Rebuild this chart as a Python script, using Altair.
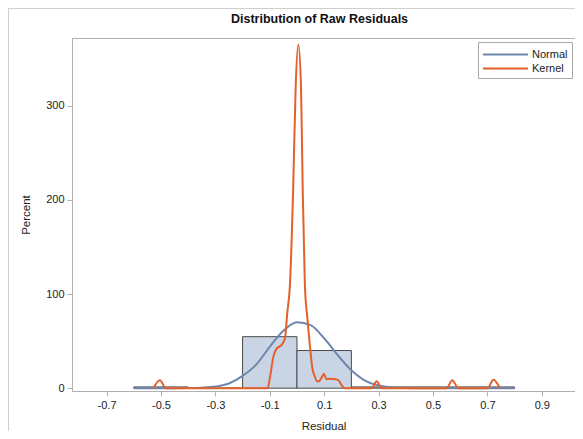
import altair as alt
import pandas as pd

# Histogram bins (percent)
bin_start = [-0.6, -0.4, -0.2, 0.0, 0.2, 0.4, 0.6]
bin_end = [-0.4, -0.2, 0.0, 0.2, 0.4, 0.6, 0.8]
bin_pct = [1.33, 0.0, 54.7, 40.0, 1.33, 1.33, 1.33]

# Normal density curve (percent)
normal_x = [-0.6, -0.55, -0.5, -0.45, -0.4, -0.35, -0.3, -0.25, -0.2, -0.15, -0.1, -0.05,
            0.0, 0.05, 0.1, 0.15, 0.2, 0.25, 0.3, 0.35, 0.4, 0.45, 0.5, 0.55, 0.6, 0.65,
            0.7, 0.75, 0.8]
normal_y = [0, 0, 0, 0, 0.1, 0.5, 1.7, 5, 13, 25, 44, 61,
            70, 67, 53, 35, 19, 8, 2.8, 0.8, 0.2, 0, 0, 0, 0, 0,
            0, 0, 0]

# Kernel density curve (percent)
kernel_x = [-0.528, -0.504, -0.482, -0.12, -0.108, -0.099, -0.087, -0.075, -0.056, -0.044,
            -0.036, -0.026, -0.014, -0.005, 0.005, 0.015, 0.021, 0.029, 0.039, 0.048,
            0.056, 0.066, 0.075, 0.085, 0.099, 0.109, 0.121, 0.14, 0.152, 0.167, 0.176,
            0.275, 0.293, 0.311, 0.55, 0.571, 0.593, 0.701, 0.722, 0.746]
kernel_y = [0, 8.5, 0, 0, 0, 12, 33, 42, 46, 53,
            79, 109, 212, 318, 365, 318, 212, 110, 72, 44,
            22, 12, 7, 8.5, 15, 9.5, 10, 9.5, 8.5, 2, 0,
            0, 7.4, 0, 0, 8.5, 0, 0, 9, 0]

x_ticks = [-0.7, -0.5, -0.3, -0.1, 0.1, 0.3, 0.5, 0.7, 0.9]
y_ticks = [0, 100, 200, 300]

bars = pd.DataFrame({"start": bin_start, "end": bin_end, "pct": bin_pct})
normal = pd.DataFrame({"x": normal_x, "y": normal_y, "series": "Normal"})
kernel = pd.DataFrame({"x": kernel_x, "y": kernel_y, "series": "Kernel"})
curves = pd.concat([normal, kernel], ignore_index=True)
curves["order"] = range(len(curves))

FONT = "Liberation Sans"
xscale = alt.Scale(domain=[-0.827, 1.022], nice=False, zero=False)
yscale = alt.Scale(domain=[-3, 372], nice=False, zero=False)

xaxis = alt.Axis(values=x_ticks, labelExpr="'' + datum.value", title="Residual", grid=False,
                 tickSize=5, labelPadding=3, titlePadding=10, labelFlush=False)
yaxis = alt.Axis(values=y_ticks, title="Percent", grid=False, tickSize=5,
                 labelPadding=3, titlePadding=14)

hist = alt.Chart(bars).mark_rect(fill="#c9d4e5", stroke="#4a4a4a", strokeWidth=1).encode(
    x=alt.X("start:Q", scale=xscale, axis=xaxis),
    x2="end:Q",
    y=alt.Y("pct:Q", scale=yscale, axis=yaxis),
    y2=alt.datum(0),
)

lines = alt.Chart(curves).mark_line(strokeWidth=2, interpolate="monotone").encode(
    x=alt.X("x:Q", scale=xscale),
    y=alt.Y("y:Q", scale=yscale),
    color=alt.Color("series:N",
                    scale=alt.Scale(domain=["Normal", "Kernel"], range=["#6f87ad", "#e4602a"]),
                    legend=alt.Legend(title=None, orient="none", legendX=406, legendY=4,
                                      symbolType="M-1,0H5", symbolSize=225,
                                      symbolStrokeWidth=2, labelFontSize=11,
                                      labelFont=FONT, labelColor="#222222",
                                      strokeColor="#a8a8a8", fillColor="white",
                                      padding=4, rowPadding=0, labelOffset=33)),
    detail="series:N",
    order="order:Q",
)

border_top = alt.Chart(pd.DataFrame({"a": [0]})).mark_rule(color="#cfcfcf", strokeWidth=1).encode(
    x=alt.value(-64), x2=alt.value(503), y=alt.value(-29.5)
)
border_left = alt.Chart(pd.DataFrame({"a": [0]})).mark_rule(color="#cfcfcf", strokeWidth=1).encode(
    x=alt.value(-63.5), y=alt.value(-30), y2=alt.value(393)
)

chart = alt.layer(hist, lines, border_top, border_left).properties(
    width=503, height=353,
    title=alt.TitleParams("Distribution of Raw Residuals", font=FONT, fontSize=12.5,
                          fontWeight="bold", color="#111111", offset=12, dy=30, dx=-4,
                          frame="group"),
    autosize=alt.AutoSizeParams(type="none"),
    padding={"left": 64, "top": 30, "right": 0, "bottom": 40},
).configure_view(
    stroke="#b0b0b0", strokeWidth=1
).configure_axis(
    labelFont=FONT, titleFont=FONT, labelFontSize=11, titleFontSize=11.5,
    titleFontWeight="normal", labelColor="#222222", titleColor="#222222",
    domainColor="#b0b0b0", tickColor="#b0b0b0"
)

chart.save("out.html", embed_options={"renderer": "svg", "actions": False})
